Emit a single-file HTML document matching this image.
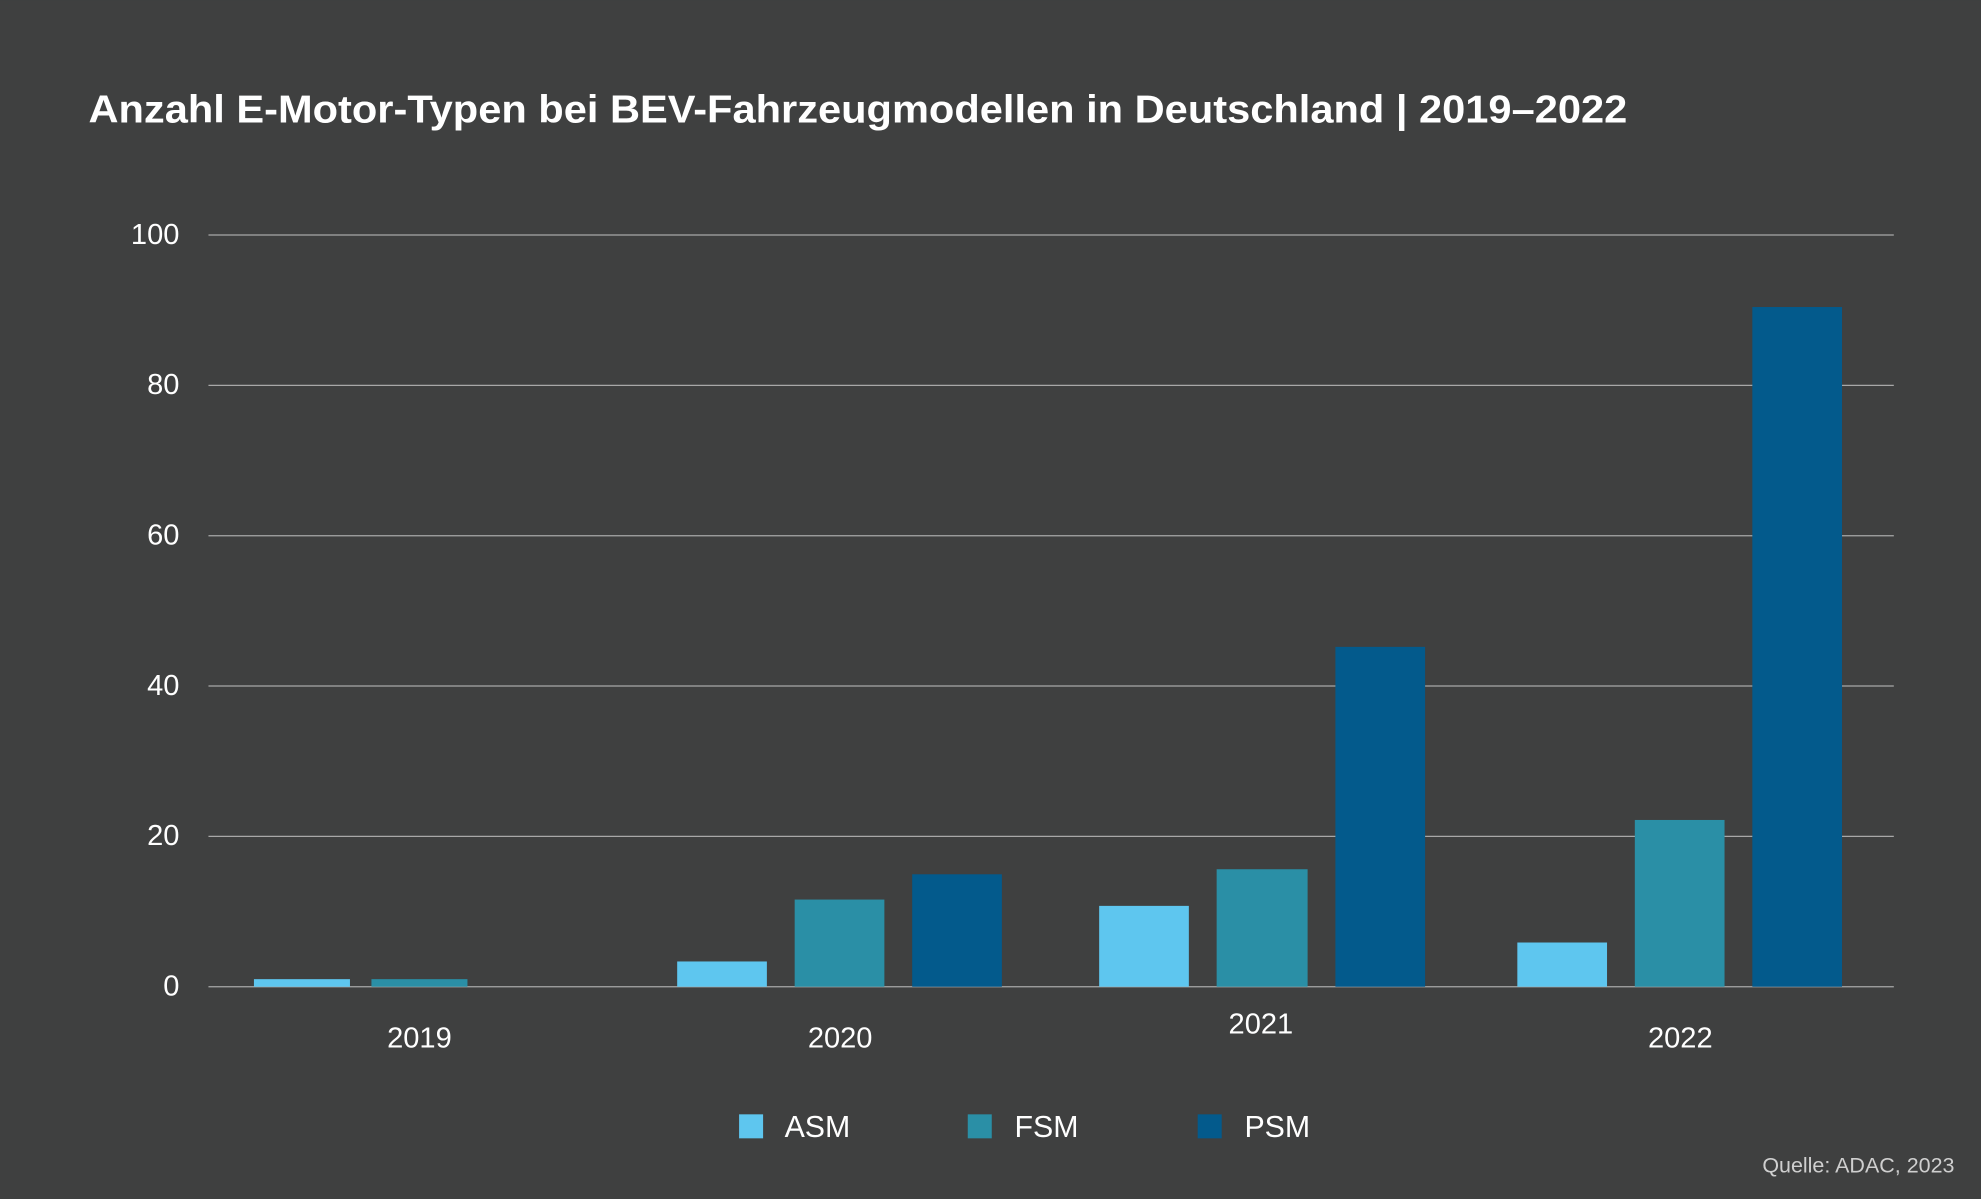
<!DOCTYPE html>
<html><head><meta charset="utf-8"><style>html,body{margin:0;padding:0;background:#3f4040;}svg{display:block}</style></head>
<body>
<svg width="1981" height="1199" viewBox="0 0 1568 949" xmlns="http://www.w3.org/2000/svg" font-family="Liberation Sans, sans-serif">
<rect width="1568" height="949" fill="#3f4040"/>
<text x="70" y="97" fill="#ffffff" font-size="31" font-weight="bold" textLength="1218" lengthAdjust="spacingAndGlyphs">Anzahl E-Motor-Typen bei BEV-Fahrzeugmodellen in Deutschland | 2019–2022</text>
<g stroke="#a8a8a8" stroke-width="1">
<line x1="165" y1="186" x2="1499" y2="186"/>
<line x1="165" y1="305" x2="1499" y2="305"/>
<line x1="165" y1="424" x2="1499" y2="424"/>
<line x1="165" y1="543" x2="1499" y2="543"/>
<line x1="165" y1="662" x2="1499" y2="662"/>
<line x1="165" y1="781" x2="1499" y2="781"/>
</g>
<g fill="#ffffff" font-size="23" text-anchor="end">
<text x="142" y="193">100</text>
<text x="142" y="312">80</text>
<text x="142" y="431">60</text>
<text x="142" y="550">40</text>
<text x="142" y="669">20</text>
<text x="142" y="788">0</text>
</g>
<g fill="#5ec6ef">
<rect x="201" y="775" width="76" height="6"/>
<rect x="536" y="761" width="71" height="20"/>
<rect x="870" y="717" width="71" height="64"/>
<rect x="1201" y="746" width="71" height="35"/>
</g>
<g fill="#2a8fa6">
<rect x="294" y="775" width="76" height="6"/>
<rect x="629" y="712" width="71" height="69"/>
<rect x="963" y="688" width="72" height="93"/>
<rect x="1294" y="649" width="71" height="132"/>
</g>
<g fill="#035a8c">
<rect x="722" y="692" width="71" height="89"/>
<rect x="1057" y="512" width="71" height="269"/>
<rect x="1387" y="243" width="71" height="538"/>
</g>
<g fill="#ffffff" font-size="23" text-anchor="middle">
<text x="332" y="829">2019</text>
<text x="665" y="829">2020</text>
<text x="998" y="818">2021</text>
<text x="1330" y="829">2022</text>
</g>
<rect x="585" y="882" width="19" height="19" fill="#5ec6ef"/>
<rect x="766" y="882" width="19" height="19" fill="#2a8fa6"/>
<rect x="948" y="882" width="19" height="19" fill="#035a8c"/>
<g fill="#ffffff" font-size="24">
<text x="621" y="900">ASM</text>
<text x="803" y="900">FSM</text>
<text x="985" y="900">PSM</text>
</g>
<text x="1547" y="928" fill="#cfcfcf" font-size="17" text-anchor="end">Quelle: ADAC, 2023</text>
</svg>
</body></html>
